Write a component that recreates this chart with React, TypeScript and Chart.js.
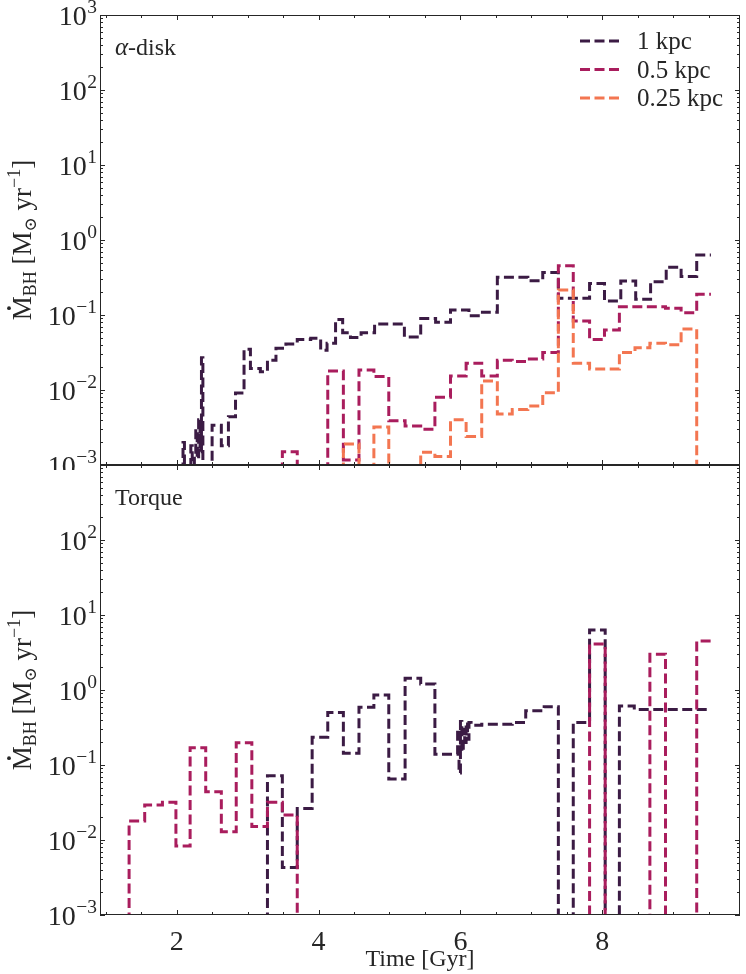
import React, { useEffect, useRef } from 'react';
import { Chart, registerables } from 'chart.js';

Chart.register(...registerables);

const SERIF = '"Liberation Serif", "DejaVu Serif", serif';
const INK = '#262626';
const C1 = '#3b1b44';
const C05 = '#a91d5d';
const C025 = '#f37651';

// time bin edges [Gyr] and accretion rates [Msun/yr]; 0 = below the axis
const diskEdges1 = [2.09, 2.11, 2.20, 2.22, 2.25, 2.27, 2.29, 2.31, 2.33, 2.35, 2.37, 2.50, 2.63, 2.73, 2.83, 2.95, 3.04, 3.18, 3.28, 3.40, 3.54, 3.70, 3.89, 4.03, 4.12, 4.24, 4.34, 4.45, 4.60, 4.79, 5.21, 5.44, 5.65, 5.86, 6.12, 6.31, 6.52, 6.95, 7.16, 7.38, 7.82, 8.03, 8.26, 8.47, 8.68, 8.90, 9.11, 9.33, 9.53];
const diskRate1 = [0.002, 0, 0.0018, 0, 0.0014, 0.003, 0.0012, 0.004, 0.0015, 0.027, 0, 0.0034, 0.0018, 0.0044, 0.0091, 0.035, 0.0194, 0.0175, 0.025, 0.036, 0.041, 0.047, 0.049, 0.034, 0.042, 0.087, 0.058, 0.05, 0.058, 0.076, 0.051, 0.09, 0.08, 0.117, 0.098, 0.109, 0.318, 0.287, 0.37, 0.167, 0.264, 0.154, 0.284, 0.162, 0.278, 0.433, 0.325, 0.63];

const diskEdges05 = [3.49, 3.70, 4.13, 4.35, 4.57, 4.78, 4.99, 5.22, 5.44, 5.64, 5.86, 6.08, 6.30, 6.52, 6.73, 6.95, 7.16, 7.38, 7.59, 7.82, 8.03, 8.24, 8.89, 9.11, 9.33, 9.53];
const diskRate05 = [0.0015, 0, 0.0179, 0.00117, 0.0185, 0.0151, 0.0039, 0.0033, 0.003, 0.008, 0.0154, 0.0228, 0.0154, 0.025, 0.024, 0.026, 0.0317, 0.455, 0.083, 0.047, 0.063, 0.129, 0.123, 0.107, 0.189];

const diskEdges025 = [4.35, 4.57, 4.78, 4.99, 5.44, 5.64, 5.86, 6.08, 6.30, 6.52, 6.73, 6.95, 7.16, 7.38, 7.59, 7.82, 8.03, 8.24, 8.46, 8.67, 8.89, 9.11, 9.33, 9.53];
const diskRate025 = [0.0019, 0, 0.0032, 0, 0.00148, 0.0013, 0.004, 0.0024, 0.0132, 0.0048, 0.0055, 0.0061, 0.0092, 0.215, 0.0228, 0.019, 0.019, 0.0317, 0.0367, 0.042, 0.04, 0.065, 0];

const torqueEdges1 = [3.28, 3.49, 3.70, 3.91, 4.13, 4.35, 4.57, 4.78, 4.99, 5.22, 5.44, 5.64, 5.96, 5.98, 6.00, 6.02, 6.04, 6.06, 6.08, 6.10, 6.12, 6.15, 6.30, 6.52, 6.73, 6.92, 7.18, 7.38, 7.59, 7.82, 8.04, 8.24, 8.45, 9.53];
const torqueRate1 = [0.072, 0.0043, 0.0264, 0.234, 0.5, 0.143, 0.59, 0.86, 0.065, 1.43, 1.2, 0.139, 0.3, 0.078, 0.38, 0.15, 0.3, 0.2, 0.37, 0.22, 0.37, 0.34, 0.35, 0.35, 0.37, 0.53, 0.6, 0, 0.37, 6.3, 0, 0.61, 0.55];

const torqueEdges05 = [1.33, 1.55, 1.80, 1.99, 2.19, 2.41, 2.63, 2.84, 3.06, 3.28, 3.49, 3.70, 7.82, 8.04, 8.67, 8.89, 9.33, 9.53];
const torqueRate05 = [0.0179, 0.0293, 0.0318, 0.0083, 0.17, 0.044, 0.0129, 0.198, 0.0151, 0.0318, 0.0215, 0, 4.1, 0, 3.0, 0, 4.5];

const legendLabels = ['1 kpc', '0.5 kpc', '0.25 kpc'];
const xTicks = [2, 4, 6, 8];
const X_MIN = 0.92;
const X_MAX = 9.94;

const LW = 3;
const DASH = [10, 4.5];

const steps = (edges: number[], vals: number[]) => {
    const floor = 1e-6;
    const pts = [{ x: edges[0], y: floor }];
    vals.forEach((v, i) => pts.push({ x: edges[i], y: v > 0 ? v : floor }));
    pts.push({ x: edges[edges.length - 1], y: vals[vals.length - 1] > 0 ? vals[vals.length - 1] : floor });
    return pts;
};

const line = (label: string, color: string, data: any[], order: number) => ({
    label,
    data,
    borderColor: color,
    backgroundColor: color,
    borderWidth: LW,
    borderDash: DASH,
    borderCapStyle: 'butt',
    borderJoinStyle: 'miter',
    pointRadius: 0,
    stepped: 'before',
    fill: false,
    clip: 0,
    order,
});

const drawPow = (ctx: CanvasRenderingContext2D, exp: number, xRight: number, y: number) => {
    const sup = exp < 0 ? '\u2212' + Math.abs(exp) : String(exp);
    ctx.font = `28px ${SERIF}`;
    const wb = ctx.measureText('10').width;
    ctx.font = `19.5px ${SERIF}`;
    const ws = ctx.measureText(sup).width;
    ctx.textAlign = 'left';
    ctx.textBaseline = 'alphabetic';
    ctx.fillStyle = INK;
    ctx.font = `28px ${SERIF}`;
    ctx.fillText('10', xRight - ws - wb - 0.5, y + 10);
    ctx.font = `19.5px ${SERIF}`;
    ctx.fillText(sup, xRight - ws, y - 2);
};

const drawYTitle = (ctx: CanvasRenderingContext2D, cx: number, cy: number) => {
    const parts = [
        { t: 'M', f: 27, dy: 0 },
        { t: 'BH', f: 18, dy: 5 },
        { t: ' [M', f: 27, dy: 0 },
        { t: '\u2299', f: 17, dy: 5 },
        { t: ' yr', f: 27, dy: 0 },
        { t: '\u22121', f: 18, dy: -11 },
        { t: ']', f: 27, dy: 0 },
    ];
    let total = 0;
    const widths = parts.map((p) => {
        ctx.font = `${p.f}px ${SERIF}`;
        const w = ctx.measureText(p.t).width;
        total += w;
        return w;
    });
    ctx.save();
    ctx.translate(cx, cy);
    ctx.rotate(-Math.PI / 2);
    ctx.fillStyle = INK;
    ctx.textAlign = 'left';
    ctx.textBaseline = 'alphabetic';
    let x = -total / 2;
    parts.forEach((p, i) => {
        ctx.font = `${p.f}px ${SERIF}`;
        ctx.fillText(p.t, x, p.dy);
        if (i === 0) {
            ctx.beginPath();
            ctx.arc(x + widths[0] / 2, -22, 1.9, 0, Math.PI * 2);
            ctx.fill();
        }
        x += widths[i];
    });
    ctx.restore();
};

const overlay = (panel: 'disk' | 'torque') => ({
    id: 'overlay_' + panel,
    afterDraw(chart: any) {
        const { ctx, chartArea: a, scales } = chart;
        const xs = scales.x;
        const ys = scales.y;
        ctx.save();
        ctx.strokeStyle = INK;
        ctx.lineWidth = 1;
        ctx.strokeRect(a.left + 0.5, a.top + 0.5, a.right - a.left - 1, a.bottom - a.top - 1);

        ctx.beginPath();
        for (let t = 1; t <= 9.5; t += 0.5) {
            const px = Math.round(xs.getPixelForValue(t)) + 0.5;
            const len = t % 2 === 0 ? 5 : 3;
            ctx.moveTo(px, a.bottom); ctx.lineTo(px, a.bottom - len);
            ctx.moveTo(px, a.top); ctx.lineTo(px, a.top + len);
        }
        for (let k = -3; k <= 3; k++) {
            for (let m = 1; m <= 9; m++) {
                if (k === 3 && m > 1) break;
                const py = Math.round(ys.getPixelForValue(m * Math.pow(10, k))) + 0.5;
                const len = m === 1 ? 5 : 3;
                ctx.moveTo(a.left, py); ctx.lineTo(a.left + len, py);
                ctx.moveTo(a.right, py); ctx.lineTo(a.right - len, py);
            }
        }
        ctx.stroke();

        for (let k = -3; k <= 3; k++) {
            if (panel === 'torque' && k === 3) continue;
            drawPow(ctx, k, a.left - 3, ys.getPixelForValue(Math.pow(10, k)));
        }

        drawYTitle(ctx, 31, (a.top + a.bottom) / 2);

        ctx.fillStyle = INK;
        ctx.textAlign = 'left';
        ctx.textBaseline = 'alphabetic';
        if (panel === 'disk') {
            ctx.font = `italic 25px ${SERIF}`;
            ctx.fillText('\u03b1', a.left + 15, a.top + 40);
            const wa = ctx.measureText('\u03b1').width;
            ctx.font = `24px ${SERIF}`;
            ctx.fillText('-disk', a.left + 15 + wa, a.top + 40);

            const cols = [C1, C05, C025];
            legendLabels.forEach((lab, i) => {
                const ly = a.top + 26 + i * 28.5;
                ctx.strokeStyle = cols[i];
                ctx.lineWidth = LW;
                ctx.setLineDash(DASH);
                ctx.beginPath();
                ctx.moveTo(580, ly);
                ctx.lineTo(620, ly);
                ctx.stroke();
                ctx.setLineDash([]);
                ctx.fillStyle = INK;
                ctx.font = `25px ${SERIF}`;
                ctx.fillText(lab, 637, ly + 8);
            });
        } else {
            ctx.font = `24px ${SERIF}`;
            ctx.fillText('Torque', a.left + 15, a.top + 40);

            ctx.textAlign = 'center';
            ctx.font = `28px ${SERIF}`;
            xTicks.forEach((t) => ctx.fillText(String(t), xs.getPixelForValue(t), a.bottom + 35));
            ctx.font = `24px ${SERIF}`;
            ctx.fillText('Time [Gyr]', (a.left + a.right) / 2, a.bottom + 51);
        }
        ctx.restore();
    },
});

const options = (padding: any) => ({
    responsive: false,
    animation: false,
    events: [],
    layout: { padding },
    plugins: { legend: { display: false }, tooltip: { enabled: false } },
    scales: {
        x: { type: 'linear', min: X_MIN, max: X_MAX, display: false },
        y: { type: 'logarithmic', min: 1e-3, max: 1e3, display: false },
    },
});

export default function App() {
    const topRef = useRef<HTMLCanvasElement>(null);
    const botRef = useRef<HTMLCanvasElement>(null);

    useEffect(() => {
        const charts: Chart[] = [];
        if (topRef.current) {
            charts.push(new Chart(topRef.current, {
                type: 'line',
                data: {
                    datasets: [
                        line(legendLabels[0], C1, steps(diskEdges1, diskRate1), 3),
                        line(legendLabels[1], C05, steps(diskEdges05, diskRate05), 2),
                        line(legendLabels[2], C025, steps(diskEdges025, diskRate025), 1),
                    ] as any,
                },
                options: options({ left: 100, right: 6, top: 15, bottom: 5 }) as any,
                plugins: [overlay('disk')],
            }));
        }
        if (botRef.current) {
            charts.push(new Chart(botRef.current, {
                type: 'line',
                data: {
                    datasets: [
                        line(legendLabels[0], C1, steps(torqueEdges1, torqueRate1), 3),
                        line(legendLabels[1], C05, steps(torqueEdges05, torqueRate05), 2),
                    ] as any,
                },
                options: options({ left: 100, right: 6, top: 5, bottom: 59 }) as any,
                plugins: [overlay('torque')],
            }));
        }
        return () => charts.forEach((c) => c.destroy());
    }, []);

    return (
        <div style={{ position: 'absolute', left: 0, top: 0, width: 746, height: 974, background: '#fff' }}>
            <canvas ref={topRef} width={746} height={470} style={{ position: 'absolute', left: 0, top: 0, width: 746, height: 470 }} />
            <canvas ref={botRef} width={746} height={514} style={{ position: 'absolute', left: 0, top: 460, width: 746, height: 514 }} />
        </div>
    );
}
